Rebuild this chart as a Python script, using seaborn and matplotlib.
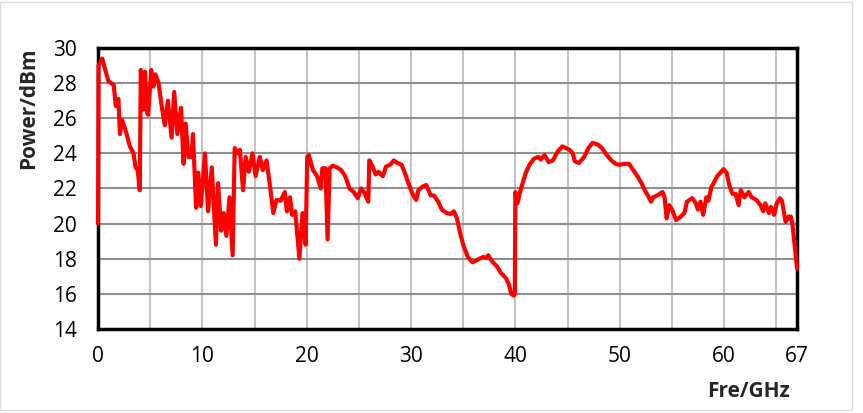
import numpy as np
import pandas as pd
import matplotlib
matplotlib.use('Agg')
import matplotlib.pyplot as plt
from matplotlib.ticker import MultipleLocator, FixedLocator
from matplotlib.patches import Rectangle
import seaborn as sns

# Frequency sweep values
freq_ghz = [
    0.0, 0.05, 0.4, 1.0, 1.5, 1.7, 1.95, 2.1, 2.3, 2.6, 3.05, 3.4, 3.6, 3.8, 4.0,
    4.1, 4.35, 4.5, 4.7, 4.8, 5.1, 5.3, 5.5, 5.8, 6.1, 6.4, 6.7, 7.05, 7.3, 7.6,
    7.95, 8.2, 8.4, 8.65, 8.95, 9.1, 9.4, 9.6, 9.85, 10.25, 10.55, 10.9, 11.3,
    11.5, 11.8, 12.05, 12.3, 12.6, 12.9, 13.1, 13.4, 13.6, 13.9, 14.15, 14.45,
    14.8, 15.1, 15.5, 15.8, 16.15, 16.45, 16.8, 17.1, 17.5, 17.9, 18.1, 18.4,
    18.6, 18.9, 19.3, 19.6, 19.9, 20.05, 20.2, 20.6, 21.0, 21.35, 21.5, 21.8,
    22.0, 22.2, 22.5, 22.9, 23.3, 23.7, 24.1, 24.5, 24.9, 25.2, 25.5, 25.9,
    26.0, 26.35, 26.6, 26.9, 27.3, 27.6, 28.0, 28.35, 28.7, 29.1, 29.4, 29.75,
    30.0, 30.3, 30.5, 30.7, 31.1, 31.45, 31.9, 32.2, 32.6, 32.95, 33.4, 33.8,
    34.1, 34.4, 34.75, 35.05, 35.45, 35.9, 36.4, 36.9, 37.2, 37.4, 37.7, 38.25,
    38.6, 39.1, 39.4, 39.6, 39.85, 39.95, 40.0, 40.2, 40.45, 40.7, 41.0, 41.4,
    41.8, 42.2, 42.45, 42.8, 43.2, 43.6, 44.05, 44.5, 44.85, 45.2, 45.5, 45.7,
    46.1, 46.6, 47.0, 47.4, 47.9, 48.3, 48.7, 49.2, 49.6, 50.0, 50.4, 50.9,
    51.3, 51.7, 52.1, 52.4, 52.7, 53.0, 53.2, 53.6, 54.1, 54.3, 54.5, 54.75,
    55.05, 55.4, 55.85, 56.2, 56.45, 56.95, 57.3, 57.5, 57.75, 58.0, 58.3,
    58.5, 58.8, 59.0, 59.35, 59.65, 59.95, 60.25, 60.5, 60.8, 61.1, 61.4, 61.6,
    61.95, 62.35, 62.65, 63.1, 63.5, 63.75, 63.95, 64.3, 64.5, 64.8, 65.05,
    65.35, 65.55, 65.9, 66.2, 66.4, 66.55, 67.0,
]
power_dbm = [
    20.0, 29.0, 29.4, 28.1, 27.9, 26.7, 27.1, 25.1, 25.9, 25.4, 24.4, 24.0, 23.2, 23.05, 21.9,
    28.75, 26.5, 28.65, 26.3, 26.2, 28.75, 27.8, 28.5, 28.0, 26.7, 25.6, 27.0, 24.9, 27.5, 25.1,
    26.6, 23.4, 25.7, 23.8, 23.8, 25.1, 20.9, 22.9, 21.0, 24.0, 20.7, 23.2, 18.8,
    22.3, 19.6, 20.6, 19.3, 21.5, 18.2, 24.3, 24.0, 24.2, 21.9, 23.8, 22.95,
    24.0, 22.7, 23.8, 23.05, 23.6, 22.3, 20.6, 21.35, 21.3, 21.8, 20.7, 21.5,
    20.5, 20.7, 18.0, 20.6, 18.8, 23.8, 23.9, 23.05, 22.7, 22.0, 23.15, 23.15,
    19.1, 23.15, 23.3, 23.2, 23.05, 22.7, 22.0, 21.8, 21.45, 22.0, 21.8, 21.25,
    23.6, 23.2, 22.8, 22.95, 22.7, 23.25, 23.35, 23.6, 23.45, 23.35, 22.9, 22.3,
    21.9, 21.5, 21.35, 21.9, 22.1, 22.2, 21.6, 21.6, 21.25, 20.8, 20.6, 20.55,
    20.7, 20.3, 19.35, 18.7, 18.1, 17.8, 17.95, 18.1, 18.05, 18.2, 17.9, 17.55,
    17.2, 16.9, 16.5, 16.0, 15.9, 16.0, 21.8, 21.15, 21.8, 22.3, 22.9, 23.4,
    23.7, 23.8, 23.65, 23.9, 23.5, 23.6, 24.1, 24.4, 24.3, 24.2, 24.0, 23.55,
    23.45, 23.8, 24.3, 24.6, 24.5, 24.3, 23.95, 23.6, 23.4, 23.35, 23.4, 23.4,
    23.05, 22.7, 22.3, 21.9, 21.6, 21.25, 21.5, 21.6, 21.8, 21.5, 20.3, 21.05,
    20.75, 20.2, 20.4, 20.6, 21.25, 21.45, 21.15, 20.8, 21.25, 20.5, 21.5,
    21.3, 22.1, 22.3, 22.7, 22.9, 23.1, 22.9, 22.2, 21.7, 21.7, 21.05, 21.9,
    21.5, 21.8, 21.5, 21.35, 21.05, 20.7, 21.15, 20.6, 20.95, 20.5, 21.15,
    21.45, 21.3, 20.1, 20.4, 20.4, 20.0, 17.45,
]

x_labels = [0, 10, 20, 30, 40, 50, 60, 67]
y_ticks = [14, 16, 18, 20, 22, 24, 26, 28, 30]

df = pd.DataFrame({'freq': freq_ghz, 'power': power_dbm})

sns.set_style('white')
plt.rcParams['font.family'] = ['Open Sans', 'DejaVu Sans']

fig = plt.figure(figsize=(8.63, 4.13), dpi=100)
ax = fig.add_axes([0.1136, 0.2034, 0.8100, 0.6804])

# grid first so the line sits on top
ax.set_axisbelow(True)
sns.lineplot(data=df, x='freq', y='power', sort=False, estimator=None,
             color='#ff0000', linewidth=3.0, ax=ax, zorder=3, clip_on=False)

ax.set_xlim(0, 67)
ax.set_ylim(14, 30)
ax.xaxis.set_major_locator(FixedLocator(x_labels))
ax.xaxis.set_minor_locator(MultipleLocator(5))
ax.set_xticklabels([str(v) for v in x_labels])
ax.set_yticks(y_ticks)

ax.grid(True, axis='x', which='both', color='#c4c4c4', linewidth=1.5)
ax.grid(True, axis='y', which='major', color='#8f8f8f', linewidth=1.5)

ax.tick_params(axis='both', which='both', direction='in', length=6, width=1.5,
               color='black', labelsize=15, labelcolor='black')
ax.tick_params(axis='y', pad=15)
ax.tick_params(axis='x', pad=12)

for side in ['left', 'right', 'top', 'bottom']:
    ax.spines[side].set_visible(True)
    ax.spines[side].set_color('black')
    ax.spines[side].set_linewidth(2.5)

ax.set_ylabel('Power/dBm', fontsize=15, fontweight='bold')
ax.yaxis.set_label_coords(-0.084, 0.785)
ax.set_xlabel('Fre/GHz', fontsize=15, fontweight='bold')
ax.xaxis.set_label_coords(0.931, -0.222)
ax.xaxis.label.set_va('center')

# faint outer frame seen around the picture
fig.patches.append(Rectangle((0.0, 0.008), 0.987, 0.988, transform=fig.transFigure,
                             fill=False, edgecolor='#dcdcdc', linewidth=1.0))

plt.savefig('out.png', dpi=100)
plt.close()
